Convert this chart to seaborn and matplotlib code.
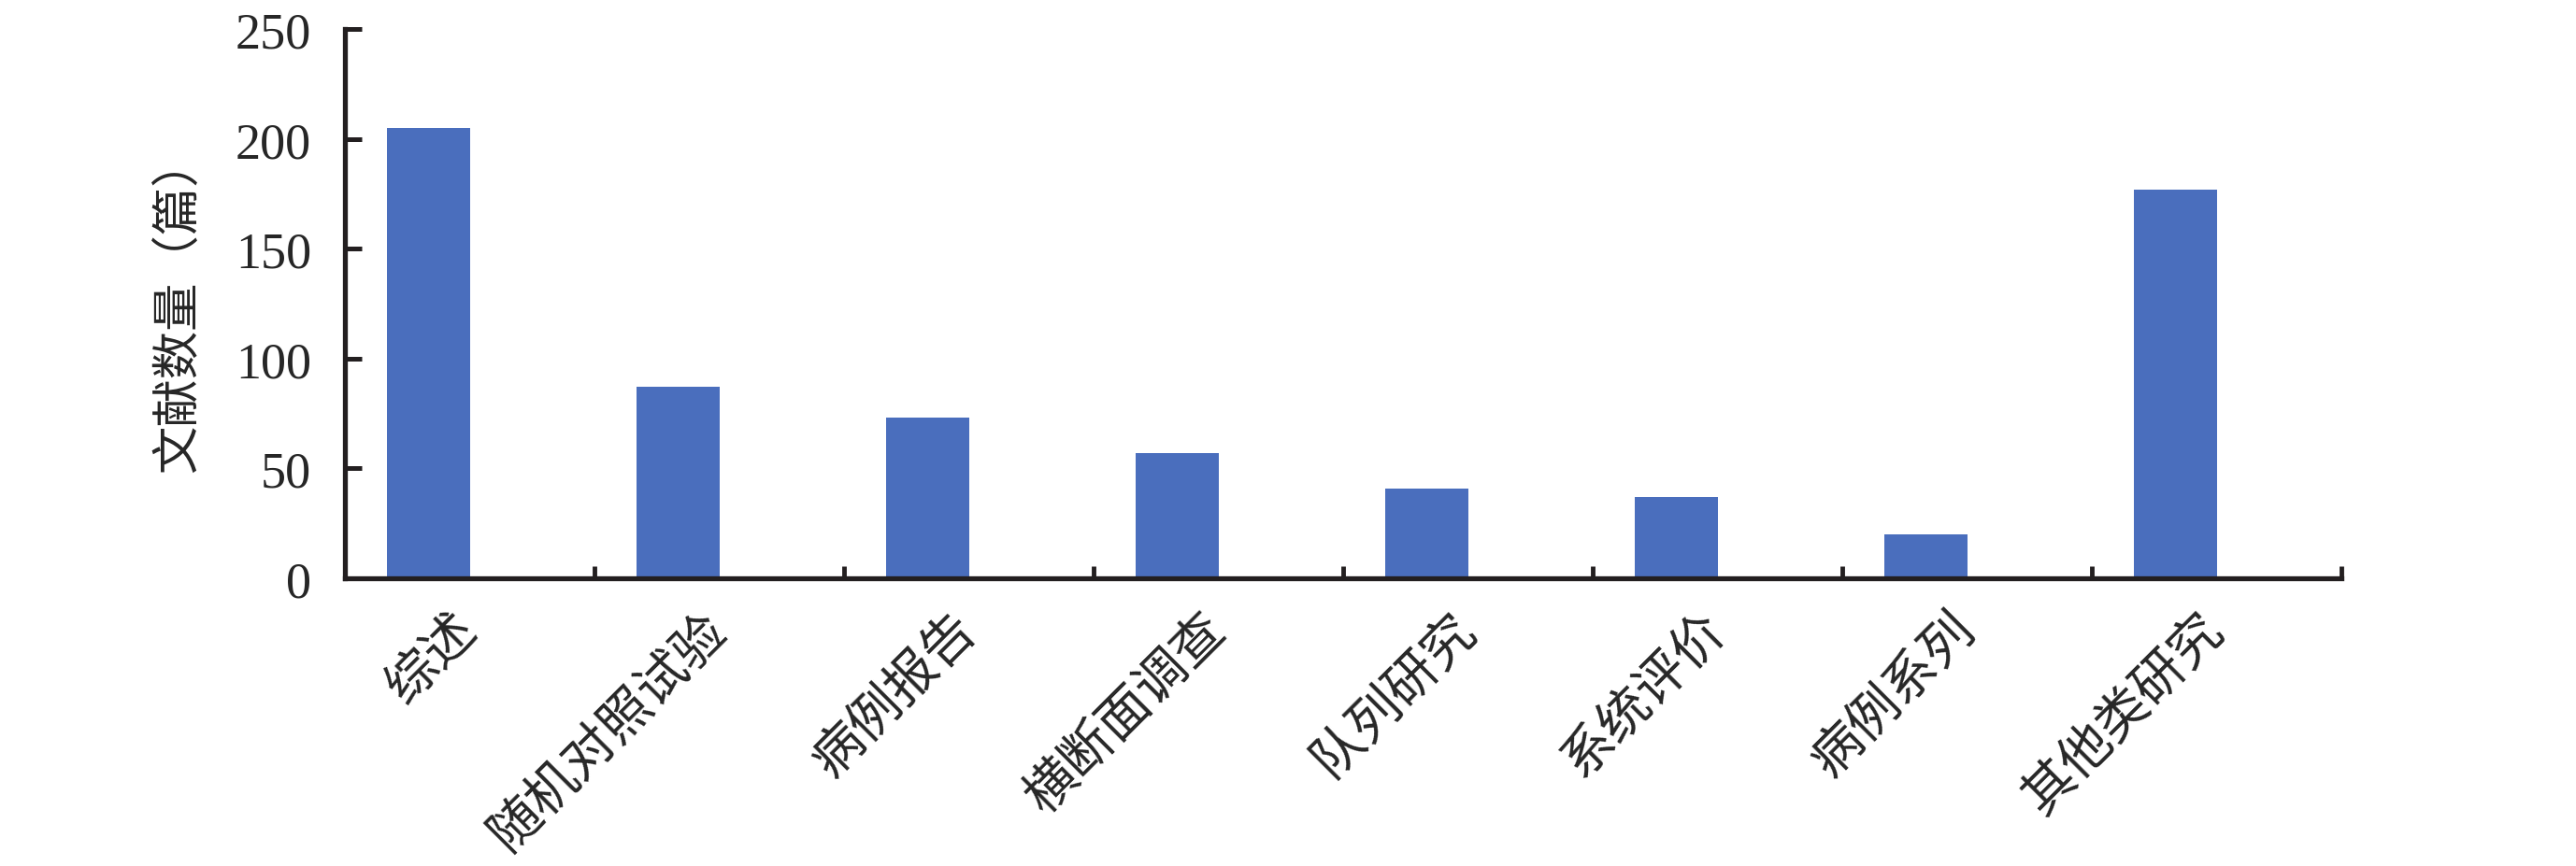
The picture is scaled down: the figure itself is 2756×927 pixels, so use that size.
import matplotlib
matplotlib.use("Agg")
import matplotlib.pyplot as plt
from matplotlib.ticker import FixedLocator
import pandas as pd
import seaborn as sns

# ---- data ----
categories = ["综述", "随机对照试验", "病例报告", "横断面调查",
              "队列研究", "系统评价", "病例系列", "其他类研究"]
counts = [205, 87, 73, 57, 41, 37, 20, 177]
y_ticks = [0, 50, 100, 150, 200, 250]
y_label = "文献数量（篇）"
series = "文献数量"
blank_series = "空白"   # empty second series, keeps bars on the left half

bar_color = "#4A6EBD"
axis_color = "#231F20"

# ---- style ----
sns.set_style("ticks")
plt.rcParams["font.family"] = ["Liberation Serif", "Noto Sans CJK SC"]

df = pd.DataFrame({"类型": categories, "篇数": counts, "系列": series})

fig, ax = plt.subplots(figsize=(27.56, 9.28), dpi=100)
fig.subplots_adjust(left=0.134, right=0.909, bottom=0.332, top=0.965)

sns.barplot(data=df, x="类型", y="篇数", hue="系列",
            order=categories, hue_order=[series, blank_series],
            palette={series: bar_color, blank_series: bar_color},
            width=2 / 3, dodge=True, saturation=1, linewidth=0,
            legend=False, ax=ax)

ax.set_xlim(-0.5, len(categories) - 0.5)
ax.set_ylim(0, 250)

# x axis: labels at category centres, tick marks on the boundaries
ax.set_xticks(range(len(categories)))
ax.set_xticklabels(categories, rotation=45, ha="right", va="center",
                   rotation_mode="anchor", fontsize=40)
ax.xaxis.set_minor_locator(FixedLocator([i - 0.5 for i in range(len(categories) + 1)]))
ax.tick_params(axis="x", which="major", bottom=True, length=0, pad=34)
ax.tick_params(axis="x", which="minor", bottom=True, direction="in",
               length=9.5, width=3.5, color=axis_color)

ax.set_yticks(y_ticks)
ax.tick_params(axis="y", left=True, direction="in", length=13, width=3.6,
               color=axis_color, labelsize=39, pad=26)

ax.set_xlabel("")
ax.set_ylabel(y_label, fontsize=37, labelpad=26)

sns.despine(ax=ax)
for side in ["left", "bottom"]:
    ax.spines[side].set_linewidth(3.8)
    ax.spines[side].set_color(axis_color)

fig.savefig("out.png", dpi=100)
